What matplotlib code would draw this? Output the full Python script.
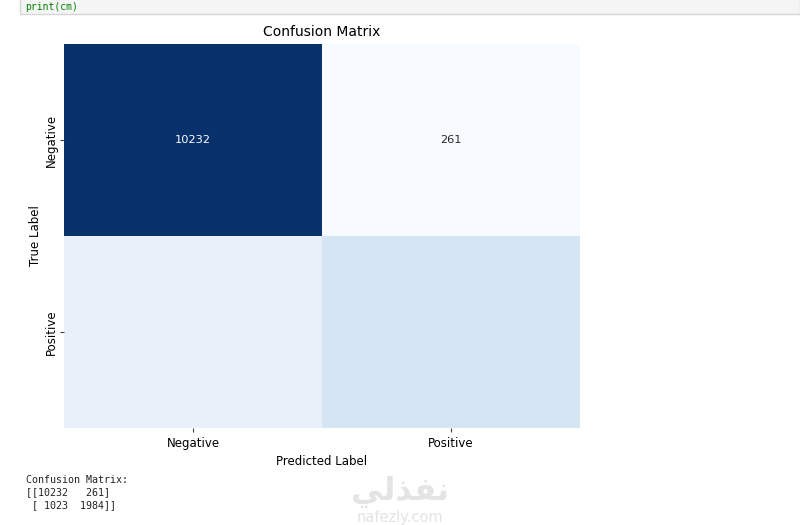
import numpy as np
import matplotlib
matplotlib.use("Agg")
import matplotlib.pyplot as plt
import seaborn as sns

labels = ["Negative", "Positive"]
cm = np.array([[10232, 261],
               [1023, 1984]])
# only the first row got annotated in the original output
annot_rows = [0]

fig = plt.figure(figsize=(8, 5.25), dpi=100)

# notebook code cell strip at the top
fig.patches.append(plt.Rectangle((0.025, 0.973), 0.975, 0.03, transform=fig.transFigure,
                                 facecolor="#f5f5f5", edgecolor="#d6d6d6", lw=1))
fig.text(0.032, 0.9875, "print(cm)", family="DejaVu Sans Mono", fontsize=7,
         color="#008000", va="center")

ax = fig.add_axes([0.08, 0.185, 0.645, 0.731])
sns.heatmap(cm, cmap="Blues", cbar=False, annot=False, ax=ax,
            xticklabels=labels, yticklabels=labels)
for i in annot_rows:
    for j in range(cm.shape[1]):
        col = "white" if cm[i, j] > cm.max() / 2 else "#262626"
        ax.text(j + 0.5, i + 0.5, str(cm[i, j]), ha="center", va="center",
                fontsize=8.2, color=col)

ax.set_title("Confusion Matrix", fontsize=10)
ax.set_xlabel("Predicted Label", fontsize=8.5)
ax.set_ylabel("True Label", fontsize=8.5, labelpad=2)
ax.tick_params(labelsize=8.5, length=3, color="#444444")
ax.tick_params(axis="y", pad=1.5)

# printed output below the figure
out_txt = "Confusion Matrix:\n" + str(cm)
fig.text(0.032, 0.095, out_txt, family="DejaVu Sans Mono", fontsize=7.2,
         color="#222222", va="top", linespacing=1.3)

# watermark
fig.text(0.5, 0.063, "\uFEF2\uFEDF\uFEAC\uFED4\uFEE7", family="DejaVu Sans",
         fontsize=23, color="#e4e4e4", ha="center", va="center", weight="bold")
fig.text(0.5, 0.015, "nafezly.com", family="DejaVu Sans", fontsize=10.5,
         color="#e4e4e4", ha="center", va="center")

fig.savefig("out.png", dpi=100)
